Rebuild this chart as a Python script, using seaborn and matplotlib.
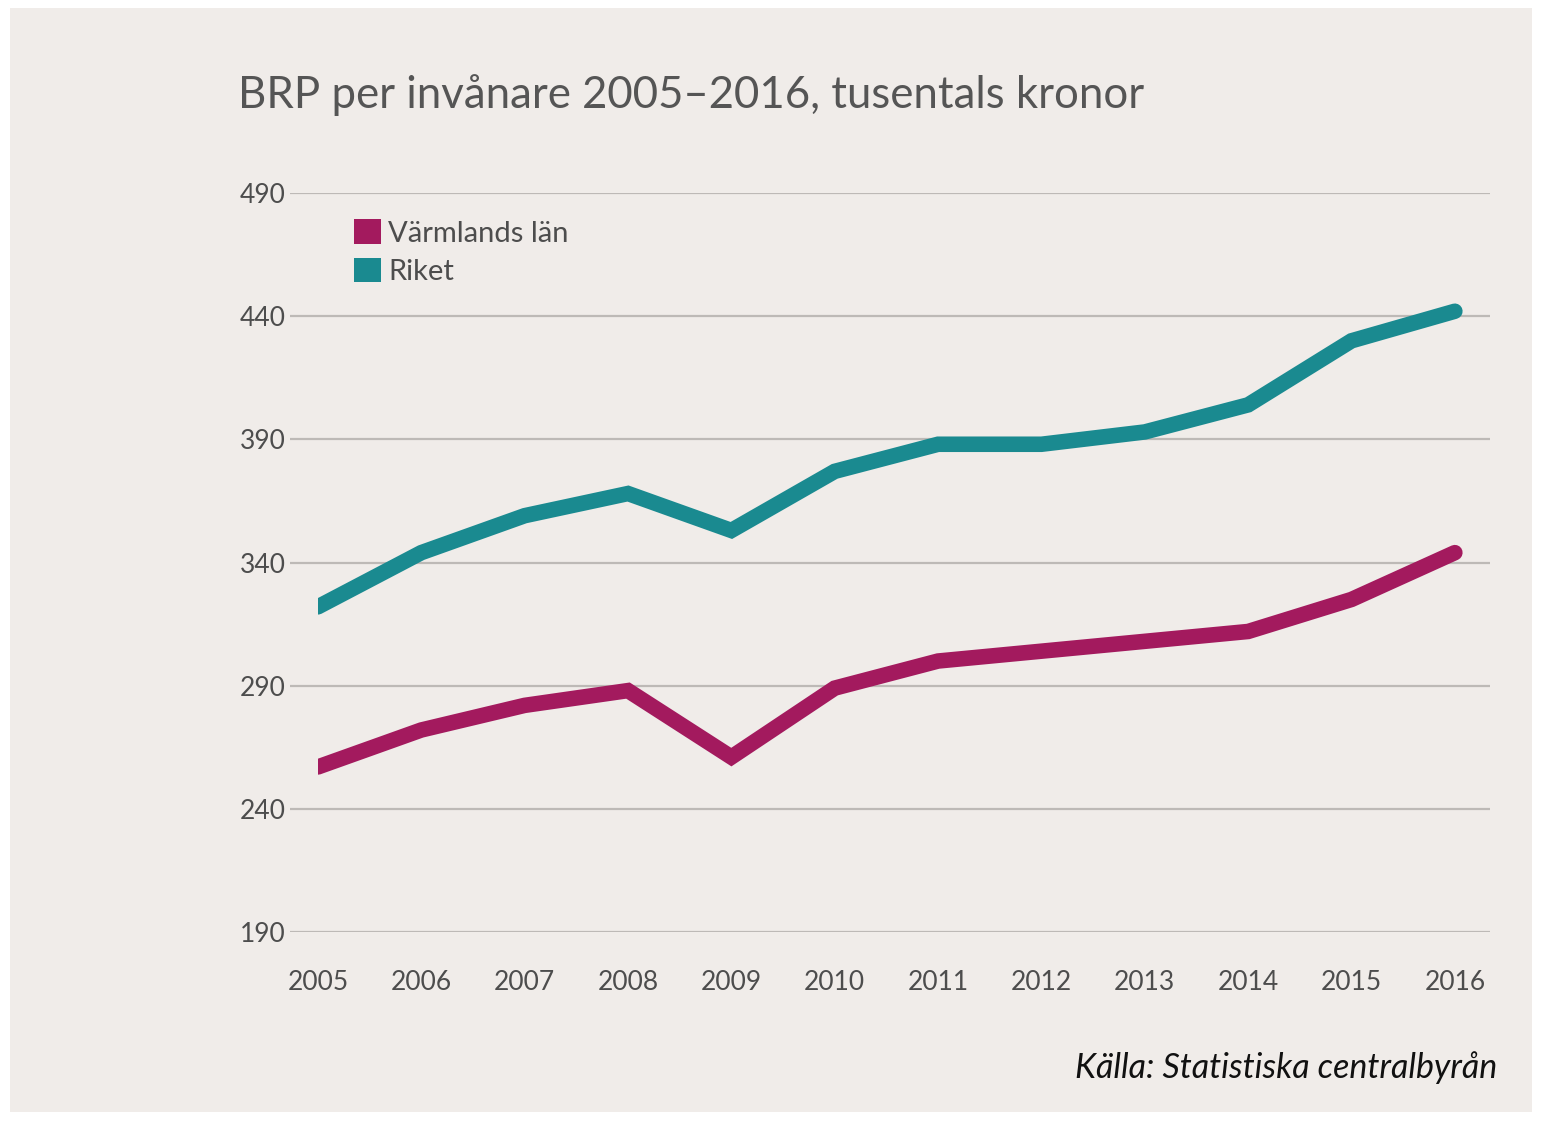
import matplotlib
matplotlib.use("Agg")
import matplotlib.pyplot as plt
from matplotlib.patches import Patch, Rectangle
import seaborn as sns
import pandas as pd

years = [2005, 2006, 2007, 2008, 2009, 2010, 2011, 2012, 2013, 2014, 2015, 2016]
varmland = [257, 272, 282, 288, 261, 289, 300, 304, 308, 312, 325, 344]
riket = [322, 344, 359, 368, 353, 377, 388, 388, 393, 404, 430, 442]
series_names = ["Värmlands län", "Riket"]
yticks = [190, 240, 290, 340, 390, 440, 490]
title = "BRP per invånare 2005–2016, tusentals kronor"
source = "Källa: Statistiska centralbyrån"

colors = {"Värmlands län": "#a31a5e", "Riket": "#1a8a90"}
bg = "#f0ece9"

df = pd.DataFrame({
    "År": years * 2,
    "Värde": varmland + riket,
    "Serie": [series_names[0]] * len(years) + [series_names[1]] * len(years),
})

sns.set_theme(style="white")
plt.rcParams["font.family"] = ["Lato", "DejaVu Sans"]

fig = plt.figure(figsize=(15.42, 11.22), dpi=100, facecolor="white")
fig.patches.append(Rectangle((10 / 1542, 1 - 1112 / 1122), 1522 / 1542, 1104 / 1122,
                             transform=fig.transFigure, facecolor=bg, edgecolor="none", zorder=-10))

ax = fig.add_axes([290 / 1542, 1 - 932 / 1122, 1200 / 1542, (932 - 193) / 1122])
ax.set_zorder(1)
ax.patch.set_alpha(0)

sns.lineplot(data=df, x="År", y="Värde", hue="Serie", palette=colors, ax=ax,
             linewidth=11.2, legend=False, solid_capstyle="round", solid_joinstyle="miter")
for ln in ax.lines:
    clip = Rectangle((years[0], 0), 100, 2000, transform=ax.transData)
    ln.set_clip_path(clip)
    ln.set_zorder(3)

ax.set_xlim(2004.73, 2016.34)
ax.set_ylim(190, 490)
ax.set_yticks(yticks)
ax.set_xticks(years)
ax.set_xticklabels([str(y) for y in years])
ax.yaxis.grid(True, color="#bdb9b6", linewidth=1.6)
ax.set_axisbelow(True)
for s in ax.spines.values():
    s.set_visible(False)
ax.tick_params(axis="both", length=0, labelsize=19, labelcolor="#4d4d4d")
ax.tick_params(axis="y", pad=3)
ax.tick_params(axis="x", pad=27)
ax.set_xlabel("")
ax.set_ylabel("")

handles = [Patch(facecolor=colors[n], edgecolor="none", label=n) for n in series_names]
leg = ax.legend(handles=handles, loc="upper left", bbox_to_anchor=(0.044, 0.98),
                frameon=False, fontsize=21, handlelength=0.9, handleheight=0.9,
                handletextpad=0.25, labelspacing=0.4, borderaxespad=0)
for t in leg.get_texts():
    t.set_color("#4d4d4d")

fig.text(238 / 1542, 1 - 95 / 1122, title, fontsize=31.5, color="#555555",
         ha="left", va="center")
fig.text(1497 / 1542, 1 - 1068 / 1122, source, fontsize=24.5, color="#111111",
         ha="right", va="center", style="italic")

fig.savefig("out.png", dpi=100, facecolor="white")
